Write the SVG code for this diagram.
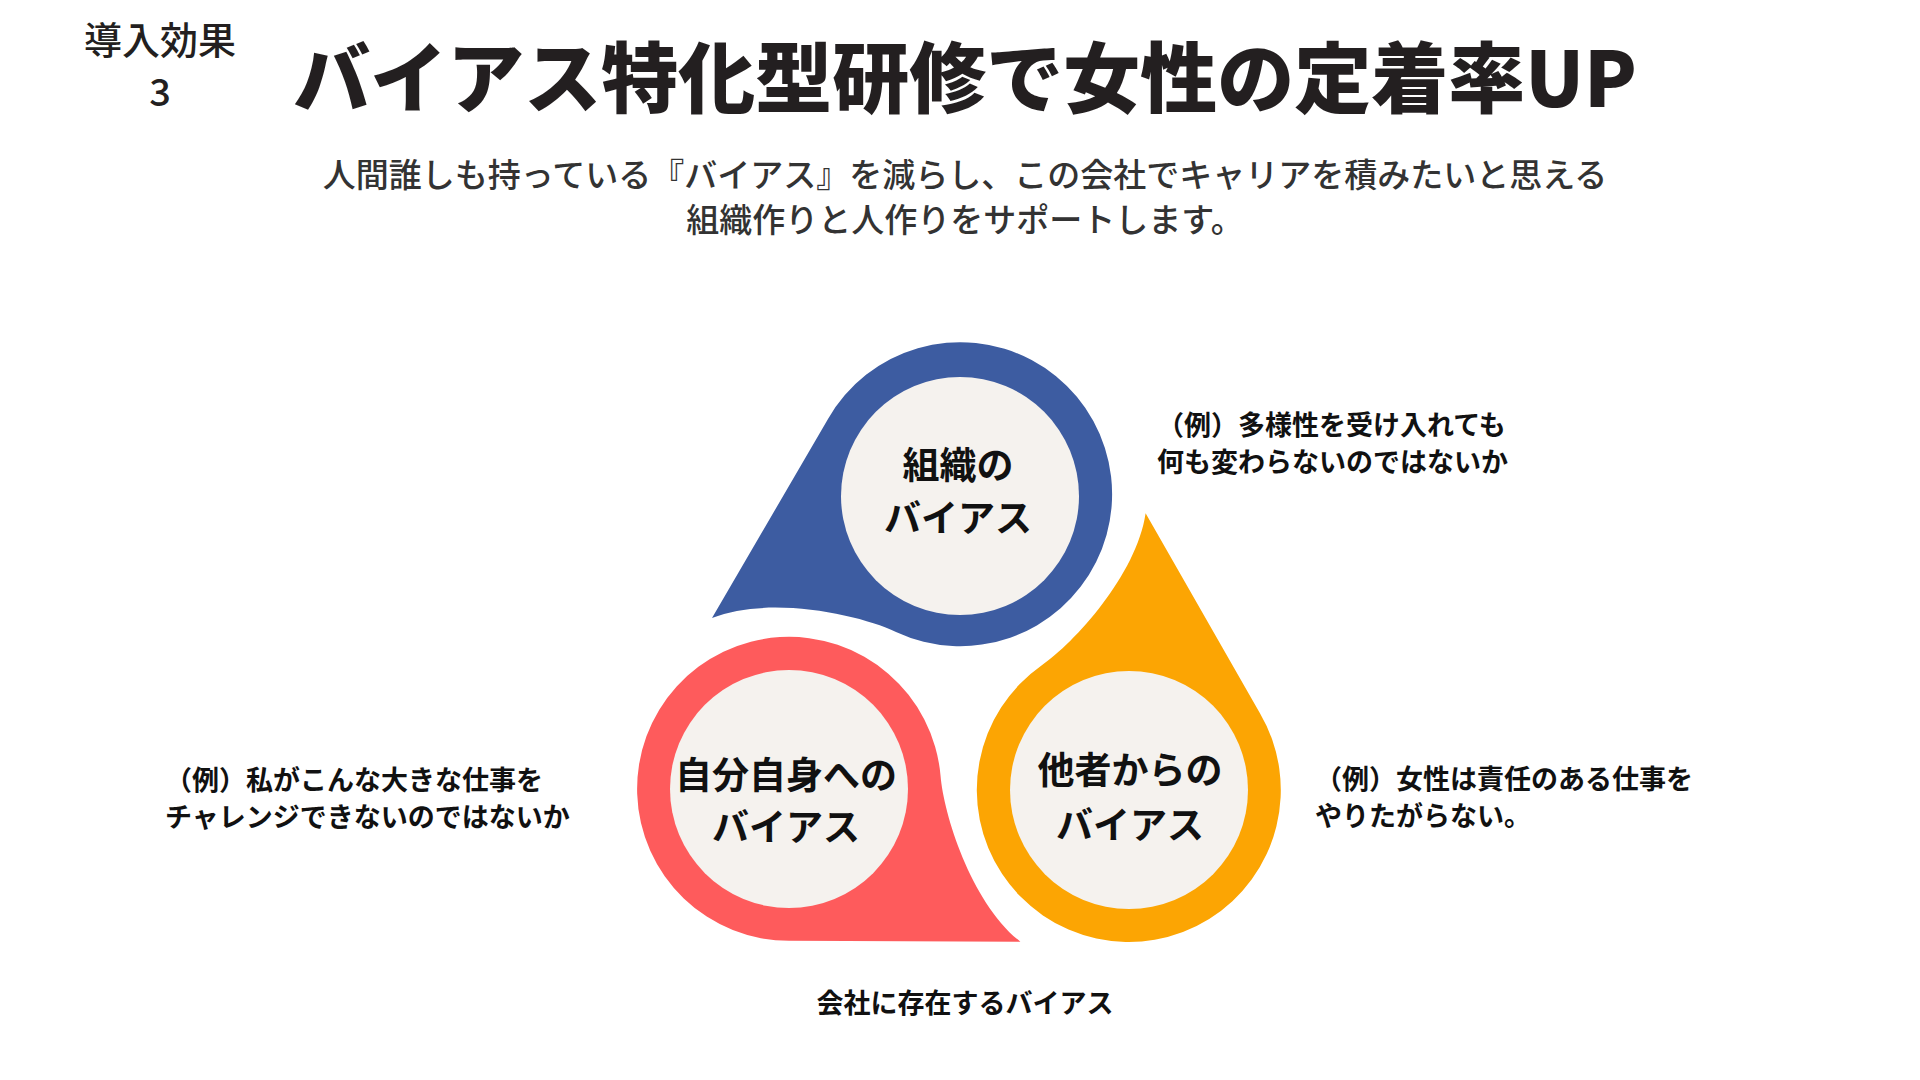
<svg xmlns="http://www.w3.org/2000/svg" xmlns:xlink="http://www.w3.org/1999/xlink" width="1920" height="1080" viewBox="0 0 1920 1080">
<style>
.jp{font-family:"Noto Sans CJK JP","Noto Sans",sans-serif}
.tag{font-size:38px;font-weight:500;fill:#231f20;text-anchor:middle}
.title{font-size:77px;font-weight:900;fill:#231f20;text-anchor:middle}
.sub{font-size:33px;font-weight:500;fill:#333333;text-anchor:middle}
.lbl{font-size:37px;font-weight:700;fill:#111111;text-anchor:middle}
.ex{font-size:27px;font-weight:700;fill:#111111}
.inner{fill:#f5f2ee}
</style>
<defs>
<path id="drop" d="M -248 124 L -132 -75 A 152 152 0 1 1 -64 138 C -100 121 -190 101 -248 124 Z"/>
</defs>
<rect width="1920" height="1080" fill="#ffffff"/>
<g id="header" class="jp">
<text class="tag" x="160" y="54">導入効果</text>
<text class="tag" x="160" y="106">3</text>
<text class="title" x="965" y="107">バイアス特化型研修で女性の定着率UP</text>
<text class="sub" x="965" y="187">人間誰しも持っている『バイアス』を減らし、この会社でキャリアを積みたいと思える</text>
<text class="sub" x="965" y="232">組織作りと人作りをサポートします。</text>
</g>
<g id="node-org" class="jp">
<use xlink:href="#drop" href="#drop" transform="translate(960,494)" fill="#3d5ca1"/>
<circle class="inner" cx="960" cy="496" r="119"/>
<text class="lbl" x="958" y="479">組織の</text>
<text class="lbl" x="958" y="532">バイアス</text>
</g>
<g id="node-self" class="jp">
<use xlink:href="#drop" href="#drop" transform="translate(789,789) rotate(-120)" fill="#fe5b5c"/>
<circle class="inner" cx="789" cy="789" r="119"/>
<text class="lbl" x="786" y="789">自分自身への</text>
<text class="lbl" x="786" y="841">バイアス</text>
</g>
<g id="node-others" class="jp">
<use xlink:href="#drop" href="#drop" transform="translate(1129,790) rotate(120)" fill="#fca503"/>
<circle class="inner" cx="1129" cy="790" r="119"/>
<text class="lbl" x="1130" y="784">他者からの</text>
<text class="lbl" x="1130" y="839">バイアス</text>
</g>
<g id="example-org" class="jp">
<text class="ex" x="1157" y="435">（例）多様性を受け入れても</text>
<text class="ex" x="1157" y="472">何も変わらないのではないか</text>
</g>
<g id="example-self" class="jp">
<text class="ex" x="165" y="790">（例）私がこんな大きな仕事を</text>
<text class="ex" x="165" y="827">チャレンジできないのではないか</text>
</g>
<g id="example-others" class="jp">
<text class="ex" x="1315" y="789">（例）女性は責任のある仕事を</text>
<text class="ex" x="1315" y="826">やりたがらない。</text>
</g>
<g id="caption" class="jp">
<text class="ex" x="965" y="1013" text-anchor="middle">会社に存在するバイアス</text>
</g>
</svg>
